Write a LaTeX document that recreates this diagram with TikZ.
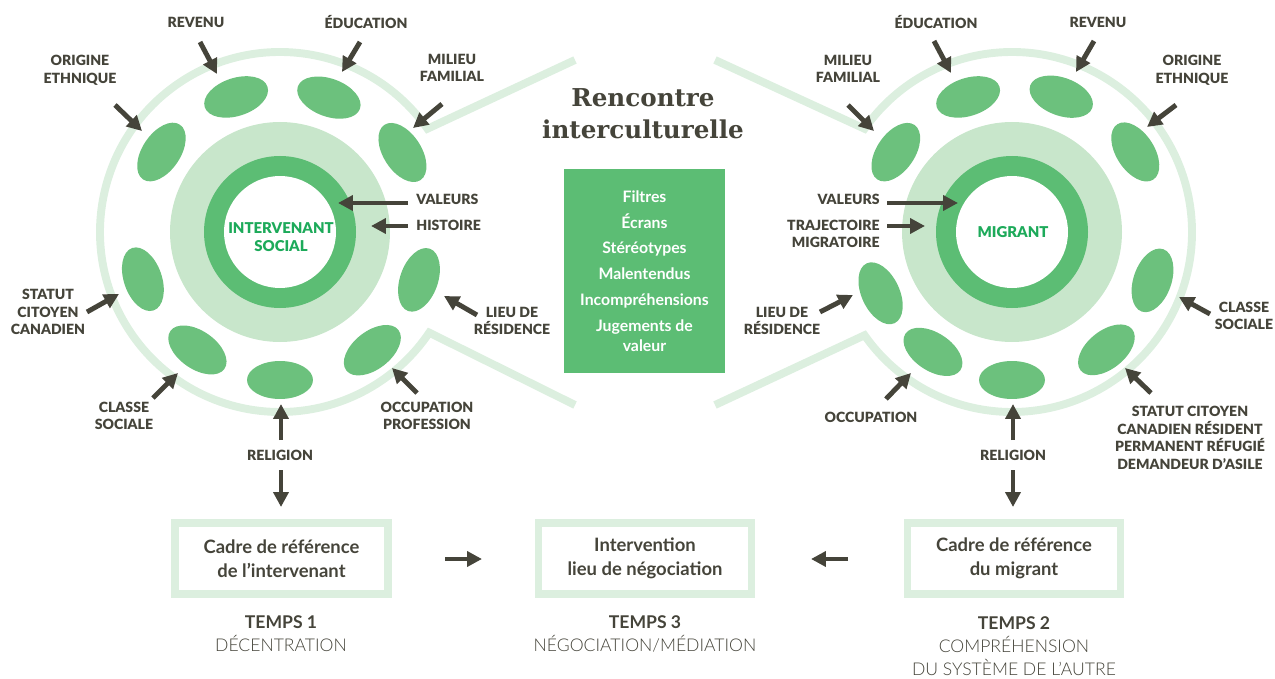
\documentclass[tikz,border=0pt]{standalone}
\usepackage{fontspec}
\setmainfont{Lato}
\newfontfamily\heavyfont{Lato Black}
\newfontfamily\lightfont{Lato Light}
\newfontfamily\slabfont{DejaVu Serif}
\usetikzlibrary{calc,arrows.meta,shapes.geometric}
\definecolor{ink}{HTML}{45443A}
\definecolor{pale}{HTML}{DCEFDF}
\definecolor{halo}{HTML}{C8E6CB}
\definecolor{core}{HTML}{5CBD74}
\definecolor{blobgreen}{HTML}{6CC17D}
\definecolor{whogreen}{HTML}{1DAA5A}
\def\pointer(#1)(#2)(#3){\coordinate (#1-a) at (#2); \coordinate (#1-b) at (#3); \draw[arr] (#1-a) -- (#1-b);}

\begin{document}
\begin{tikzpicture}[x=0.02cm,y=-0.02cm,
	ring/.style={draw=pale, line width=4.5pt},
	blob/.style={ellipse, fill=blobgreen, minimum width=1.32cm, minimum height=0.76cm, inner sep=0pt},
	who/.style={text=whogreen, align=center, inner sep=0pt, font=\heavyfont\fontsize{8.5}{10.5}\selectfont},
	lbl/.style={text=ink, align=center, inner sep=0pt, font=\heavyfont\fontsize{8}{10}\selectfont},
	arr/.style={draw=ink, line width=2.8pt, -{Triangle[length=8.5pt,width=8.5pt]}},
	frame/.style={draw=pale, line width=4.5pt, minimum width=4.26cm, minimum height=1.42cm, align=center, text=ink, font=\bfseries\fontsize{10.5}{13.6}\selectfont},
	temps/.style={text=ink, align=center, inner sep=0pt, font=\fontsize{10}{13.2}\selectfont},
	filterbox/.style={fill=core, text=white, align=center, minimum width=3.22cm, minimum height=4.08cm, font=\bfseries\fontsize{9}{11.3}\selectfont},
	title/.style={text=ink, align=center, inner sep=0pt, font=\slabfont\bfseries\fontsize{14}{18}\selectfont}]
		%%%%% START %%%%%
		\useasboundingbox (0,0) rectangle (1275,679);
		\coordinate (L) at (280,232);
		\coordinate (R) at (1012,232);
		
		% outer rings opening towards the middle
		\draw[ring] (575,60) -- ($(L)+(-35:180)$) arc[start angle=-35, end angle=-326, radius=180] -- (575,405);
		\draw[ring] (715,60) -- ($(R)+(-145:180)$) arc[start angle=-145, end angle=145, radius=180] -- (715,405);
		
		\foreach \c in {L,R} {
			\fill[halo] (\c) circle (110);
			\fill[core] (\c) circle (76);
			\fill[white] (\c) circle (56);
		}
		
		% blobs: angle/distance
		\foreach \v/\d [count=\i] in {108/142, 70/143, 33/146, 146/143, 199/145, 341/147, 235/144, 308/150, 270/148}
			\node[blob, rotate=\v-90] (lb\i) at ($(L)+(-\v:\d)$) {};
		\foreach \v/\d [count=\i] in {70/144, 108/142, 145.5/141, 33/147, 341/148.6, 205/145, 236.6/143.6, 270/148, 308.7/151}
			\node[blob, rotate=\v-90] (rb\i) at ($(R)+(-\v:\d)$) {};
		
		\node[who] (lwho) at (281,237) {INTERVENANT\\SOCIAL};
		\node[who] (rwho) at (1013,232) {MIGRANT};
		
		% left side
		\node[lbl] (l-rev) at (196,22) {REVENU};
		\node[lbl] (l-edu) at (366,22) {ÉDUCATION};
		\node[lbl] (l-mil) at (452,68) {MILIEU\\FAMILIAL};
		\node[lbl] (l-ori) at (80,70) {ORIGINE\\ETHNIQUE};
		\node[lbl, anchor=west] (l-val) at (416,199) {VALEURS};
		\node[lbl, anchor=west] (l-his) at (416,225) {HISTOIRE};
		\node[lbl] (l-lieu) at (512,321) {LIEU DE\\RÉSIDENCE};
		\node[lbl] (l-occ) at (427,416) {OCCUPATION\\PROFESSION};
		\node[lbl] (l-cla) at (124,416) {CLASSE\\SOCIALE};
		\node[lbl] (l-sta) at (48,312) {STATUT\\CITOYEN\\CANADIEN};
		\node[lbl] (l-rel) at (280,455) {RELIGION};
		
		\pointer(p-lrev)(200,42)(217,74)
		\pointer(p-ledu)(360,42)(342,72)
		\pointer(p-lmil)(442,104)(413,128)
		\pointer(p-lori)(115,105)(142,131)
		\pointer(p-lval)(408,203)(338,203)
		\pointer(p-lhis)(408,226)(371,226)
		\pointer(p-llieu)(477,315)(444,296)
		\pointer(p-locc)(417,393)(392,368)
		\pointer(p-lcla)(153,398)(178,373)
		\pointer(p-lsta)(87,312)(119,294)
		\pointer(p-lrelup)(281,440)(281,404)
		\pointer(p-lreldn)(281,470)(281,507)
		
		% right side
		\node[lbl] (r-edu) at (936,22) {ÉDUCATION};
		\node[lbl] (r-rev) at (1098,22) {REVENU};
		\node[lbl] (r-mil) at (848,69) {MILIEU\\FAMILIAL};
		\node[lbl] (r-ori) at (1192,70) {ORIGINE\\ETHNIQUE};
		\node[lbl, anchor=east] (r-val) at (880,199) {VALEURS};
		\node[lbl, anchor=east, align=right] (r-tra) at (880,234) {TRAJECTOIRE\\MIGRATOIRE};
		\node[lbl] (r-lieu) at (782,321) {LIEU DE\\RÉSIDENCE};
		\node[lbl] (r-cla) at (1244,316) {CLASSE\\SOCIALE};
		\node[lbl] (r-occ) at (871,417) {OCCUPATION};
		\node[lbl] (r-sta) at (1190,438) {STATUT CITOYEN\\CANADIEN RÉSIDENT\\PERMANENT RÉFUGIÉ\\DEMANDEUR D’ASILE};
		\node[lbl] (r-rel) at (1013,455) {RELIGION};
		
		\pointer(p-redu)(934,41)(951,73)
		\pointer(p-rrev)(1094,41)(1076,72)
		\pointer(p-rmil)(848,105)(874,131)
		\pointer(p-rori)(1176,105)(1147,127)
		\pointer(p-rval)(887,203)(958,203)
		\pointer(p-rtra)(887,226)(925,226)
		\pointer(p-rlieu)(820,312)(853,295)
		\pointer(p-rcla)(1210,314)(1179,297)
		\pointer(p-rocc)(886,399)(911,373)
		\pointer(p-rsta)(1151,393)(1125,368)
		\pointer(p-rrelup)(1013,440)(1013,404)
		\pointer(p-rreldn)(1013,470)(1013,507)
		
		% middle
		\node[title] (title) at (643,114) {Rencontre\\interculturelle};
		\node[filterbox] (filters) at (644.5,271) {Filtres\\[3.4pt]Écrans\\[3.4pt]Stéréotypes\\[3.4pt]Malentendus\\[3.4pt]Incompréhensions\\[3.4pt]Jugements de\\valeur};
		
		% frames of reference
		\node[frame] (lframe) at (281.5,558.5) {Cadre de référence\\de l’intervenant};
		\node[frame] (mframe) at (645,558.5) {Intervention\\lieu de négociation};
		\node[frame] (rframe) at (1014,558.5) {Cadre de référence\\du migrant};
		\pointer(p-lm)(445,559)(482,559)
		\pointer(p-rm)(848,559)(811,559)
		
		\node[temps] (t1) at (281,634) {\textbf{TEMPS 1}\\{\lightfont DÉCENTRATION}};
		\node[temps] (t3) at (645,634) {\textbf{TEMPS 3}\\{\lightfont NÉGOCIATION/MÉDIATION}};
		\node[temps] (t2) at (1014,646) {\textbf{TEMPS 2}\\{\lightfont COMPRÉHENSION}\\{\lightfont DU SYSTÈME DE L’AUTRE}};
		%%%%% END %%%%%
	\end{tikzpicture}
\end{document}
